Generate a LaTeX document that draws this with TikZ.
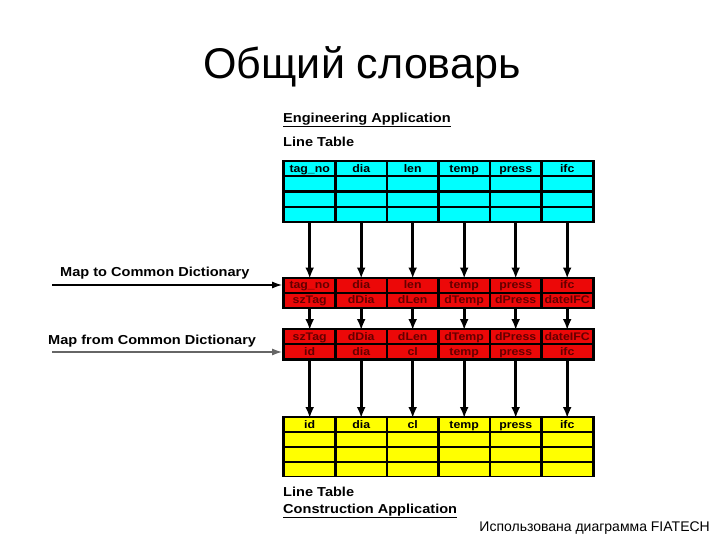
\documentclass[tikz,border=0pt]{standalone}
\usepackage{fontspec}
\setmainfont{Liberation Sans}
\newfontfamily\widefont[FakeStretch=1.12]{Liberation Sans}
\usetikzlibrary{arrows.meta}

\definecolor{engcyan}{RGB}{0,255,255}
\definecolor{dictred}{RGB}{236,8,8}
\definecolor{dicttext}{RGB}{100,0,0}
\definecolor{conyellow}{RGB}{255,255,0}

\begin{document}
\begin{tikzpicture}[
    x=1pt, y=-1pt,
    frame/.style={
        rectangle,
        fill=black,
        anchor=north west,
        inner sep=0pt,
        minimum width=313pt
    },
    cell/.style={
        rectangle,
        anchor=north west,
        inner sep=0pt,
        minimum width=49pt,
        minimum height=13pt,
        text height=9pt,
        text depth=2pt,
        font=\widefont\fontsize{11}{11}\selectfont\bfseries
    },
    engcell/.style={cell, fill=engcyan},
    dictcell/.style={cell, fill=dictred, text=dicttext},
    concell/.style={cell, fill=conyellow},
    caption/.style={
        anchor=west,
        inner sep=0pt,
        font=\widefont\fontsize{13}{13}\selectfont\bfseries
    },
    arrow/.style={-{Latex[length=11pt,width=9pt]}, line width=2.8pt},
    maparrow/.style={-{Latex[length=10pt,width=7pt]}, line width=1.1pt}
]
\useasboundingbox (0,0) rectangle (720,540);

\node (title) at (362,67) {\fontsize{43}{43}\selectfont Общий словарь};

\node[caption] (engapp) at (283,120) {\underline{Engineering Application}};
\node[caption] (englt) at (283,142) {Line Table};

% engineering line table
\node[frame, minimum height=63pt] (eng) at (282,160) {};
\foreach \t [count=\c] in {tag\_no, dia, len, temp, press, ifc}
    \node[engcell] (eng-1-\c) at ({285+51.5*(\c-1)},162) {\t};
\foreach \r in {2,3,4}
    \foreach \c in {1,...,6}
        \node[engcell] (eng-\r-\c) at ({285+51.5*(\c-1)},{162+15.3*(\r-1)}) {};

% common dictionary mapping
\node[frame, minimum height=32pt] (dictto) at (282,276.5) {};
\foreach \t [count=\c] in {tag\_no, dia, len, temp, press, ifc}
    \node[dictcell] (to-1-\c) at ({285+51.5*(\c-1)},278.5) {\t};
\foreach \t [count=\c] in {szTag, dDia, dLen, dTemp, dPress, dateIFC}
    \node[dictcell] (to-2-\c) at ({285+51.5*(\c-1)},293.5) {\t};

\node[frame, minimum height=32.5pt] (dictfrom) at (282,328) {};
\foreach \t [count=\c] in {szTag, dDia, dLen, dTemp, dPress, dateIFC}
    \node[dictcell] (from-1-\c) at ({285+51.5*(\c-1)},330) {\t};
\foreach \t [count=\c] in {id, dia, cl, temp, press, ifc}
    \node[dictcell] (from-2-\c) at ({285+51.5*(\c-1)},345) {\t};

% construction line table
\node[frame, minimum height=61pt] (con) at (282,416) {};
\foreach \t [count=\c] in {id, dia, cl, temp, press, ifc}
    \node[concell] (con-1-\c) at ({285+51.5*(\c-1)},418) {\t};
\foreach \r in {2,3,4}
    \foreach \c in {1,...,6}
        \node[concell] (con-\r-\c) at ({285+51.5*(\c-1)},{418+14.8*(\r-1)}) {};

\node[caption] (conlt) at (283,492) {Line Table};
\node[caption] (conapp) at (283,511) {\underline{Construction Application}};

\foreach \c in {1,...,6} {
    \draw[arrow] (eng-4-\c.south) -- (to-1-\c.north);
    \draw[arrow] (to-2-\c.south) -- (from-1-\c.north);
    \draw[arrow] (from-2-\c.south) -- (con-1-\c.north);
}

\node[caption] (mapto) at (60,273) {Map to Common Dictionary};
\coordinate (mapto-start) at (52,285);
\draw[maparrow] (mapto-start) -- (dictto.west |- mapto-start);

\node[caption] (mapfrom) at (48,341) {Map from Common Dictionary};
\coordinate (mapfrom-start) at (52,352);
\draw[maparrow, draw=black!60, fill=black] (mapfrom-start) -- (dictfrom.west |- mapfrom-start);

\node[anchor=east, inner sep=0pt] (note) at (710,528)
    {\fontsize{14}{14}\selectfont Использована диаграмма FIATECH};

\end{tikzpicture}
\end{document}
